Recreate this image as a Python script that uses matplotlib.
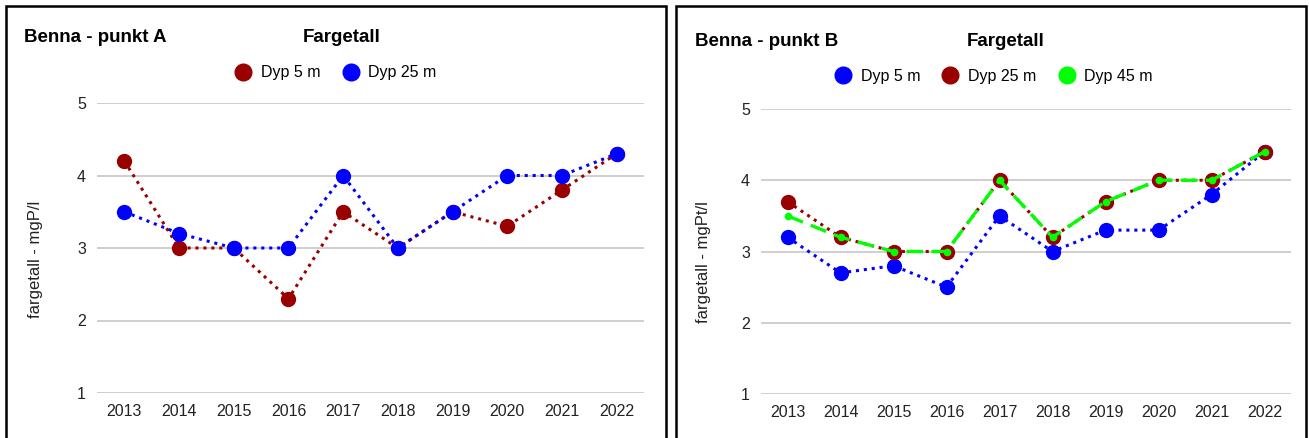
import numpy as np
import matplotlib
matplotlib.use('Agg')
from matplotlib import pyplot as plt
from matplotlib.lines import Line2D
from matplotlib.patches import Rectangle

years = [2013, 2014, 2015, 2016, 2017, 2018, 2019, 2020, 2021, 2022]

# punkt A
a_dyp5 = [4.2, 3.0, 3.0, 2.3, 3.5, 3.0, 3.5, 3.3, 3.8, 4.3]
a_dyp25 = [3.5, 3.2, 3.0, 3.0, 4.0, 3.0, 3.5, 4.0, 4.0, 4.3]

# punkt B
b_dyp5 = [3.2, 2.7, 2.8, 2.5, 3.5, 3.0, 3.3, 3.3, 3.8, 4.4]
b_dyp25 = [3.7, 3.2, 3.0, 3.0, 4.0, 3.2, 3.7, 4.0, 4.0, 4.4]
b_dyp45 = [3.5, 3.2, 3.0, 3.0, 4.0, 3.2, 3.7, 4.0, 4.0, 4.4]

RED = '#990000'
BLUE = '#0000ff'
GREEN = '#00ff00'

plt.rcParams['font.family'] = ['Liberation Sans', 'DejaVu Sans']

W, H = 1309, 438
fig = plt.figure(figsize=(W / 100, H / 100), dpi=100)


def px_box(x0, y0, x1, y1):
    # pixel box (top-left origin) -> figure fraction [left, bottom, width, height]
    return [x0 / W, 1 - y1 / H, (x1 - x0) / W, (y1 - y0) / H]


def frame(x0, x1):
    r = Rectangle((x0 / W, -0.1), (x1 - x0) / W, 1 - 6 / H + 0.1,
                  transform=fig.transFigure, fill=False, edgecolor='black',
                  linewidth=1.8, zorder=0)
    fig.patches.append(r)


def style_axes(ax, ylabel, label_x, label_y):
    ax.set_xlim(2012.5, 2022.5)
    ax.set_ylim(1, 5)
    ax.set_xticks(years)
    ax.set_yticks([1, 2, 3, 4, 5])
    ax.grid(axis='y', color='#cccccc', linewidth=1.3)
    ax.set_axisbelow(True)
    for s in ax.spines.values():
        s.set_visible(False)
    ax.tick_params(length=0, labelsize=11.5, colors='#222222')
    ax.tick_params(axis='x', pad=8)
    ax.tick_params(axis='y', pad=8)
    ax.set_ylabel(ylabel, fontsize=12, color='#222222')
    ax.yaxis.set_label_coords(label_x, label_y)


dot = (0, (1, 1.6))

# ---- punkt A
frame(6, 666)
ax1 = fig.add_axes(px_box(97, 103, 644, 393))
ax1.plot(years, a_dyp5, color=RED, linestyle=dot, linewidth=2.2,
         marker='o', markersize=10, zorder=3)
ax1.plot(years, a_dyp25, color=BLUE, linestyle=dot, linewidth=2.2,
         marker='o', markersize=10, zorder=4)
style_axes(ax1, 'fargetall - mgP/l', -0.098, 0.46)
fig.text(24 / W, 1 - 38 / H, 'Benna - punkt A', fontsize=13.5, fontweight='bold',
         ha='left', va='center')
fig.text(342 / W, 1 - 38 / H, 'Fargetall', fontsize=13.5, fontweight='bold',
         ha='center', va='center')
h1 = [Line2D([], [], color=RED, marker='o', linestyle='none', markersize=12),
      Line2D([], [], color=BLUE, marker='o', linestyle='none', markersize=12)]
fig.legend(h1, ['Dyp 5 m', 'Dyp 25 m'], loc='center', ncol=2,
           bbox_to_anchor=(335 / W, 1 - 73 / H), frameon=False, fontsize=11.5,
           handletextpad=0.5, columnspacing=1.3, handlelength=1.2)

# ---- punkt B
frame(676, 1306)
ax2 = fig.add_axes(px_box(761, 109, 1291, 394))
ax2.plot(years, b_dyp5, color=BLUE, linestyle=dot, linewidth=2.2,
         marker='o', markersize=10, zorder=3)
ax2.plot(years, b_dyp25, color=RED, linestyle=dot, linewidth=2.2,
         marker='o', markersize=10, zorder=4)
ax2.plot(years, b_dyp45, color=GREEN, linestyle=(0, (5, 2.5)), linewidth=2.4,
         marker='o', markersize=4.5, zorder=5)
style_axes(ax2, 'fargetall - mgPt/l', -0.095, 0.463)
fig.text(695 / W, 1 - 42 / H, 'Benna - punkt B', fontsize=13.5, fontweight='bold',
         ha='left', va='center')
fig.text(1006 / W, 1 - 42 / H, 'Fargetall', fontsize=13.5, fontweight='bold',
         ha='center', va='center')
h2 = [Line2D([], [], color=BLUE, marker='o', linestyle='none', markersize=12),
      Line2D([], [], color=RED, marker='o', linestyle='none', markersize=12),
      Line2D([], [], color=GREEN, marker='o', linestyle='none', markersize=12)]
fig.legend(h2, ['Dyp 5 m', 'Dyp 25 m', 'Dyp 45 m'], loc='center', ncol=3,
           bbox_to_anchor=(993 / W, 1 - 76 / H), frameon=False, fontsize=11.5,
           handletextpad=0.5, columnspacing=1.3, handlelength=1.2)

fig.savefig('out.png', dpi=100)
